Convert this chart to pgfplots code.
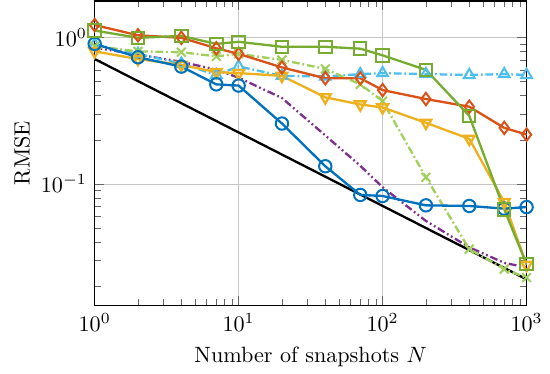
\documentclass[border=0pt]{standalone}
\usepackage{pgfplots}
\pgfplotsset{compat=1.18}
\definecolor{mblue}{rgb}{0,0.447,0.741}
\definecolor{morange}{rgb}{0.85,0.325,0.098}
\definecolor{myellow}{rgb}{0.929,0.694,0.125}
\definecolor{mpurple}{rgb}{0.494,0.184,0.556}
\definecolor{mgreen}{rgb}{0.466,0.674,0.188}
\definecolor{mlblue}{rgb}{0.301,0.745,0.933}
\definecolor{mlgreen}{rgb}{0.63,0.81,0.36}
\begin{document}
\begin{tikzpicture}
\begin{axis}[
  scale only axis,
  width=195pt, height=137.5pt,
  xmode=log, ymode=log,
  xmin=1, xmax=1000, ymin=0.0149, ymax=1.77,
  grid=major,
  major grid style={gray!45, line width=0.4pt},
  tick style={gray!80!black},
  axis line style={black, line width=0.7pt},
  xlabel={Number of snapshots $N$},
  ylabel={RMSE},
  ylabel style={yshift=-2pt},
  every axis plot/.append style={line width=1.05pt, mark size=2.8pt, mark options={solid, line width=0.9pt}},
]
\addplot[black, no marks] coordinates {(1,0.71) (1000,0.0224)};
\addplot[mpurple, dash pattern=on 3.5pt off 1.3pt on 0.8pt off 1.3pt on 0.8pt off 1.3pt, no marks] coordinates {
(1,0.85) (2,0.76) (4,0.68) (7,0.60) (10,0.53) (20,0.385) (40,0.214) (70,0.133) (100,0.095) (200,0.056) (400,0.037) (700,0.029) (1000,0.027)};
\addplot[mlblue, dash pattern=on 3.5pt off 1.3pt on 0.8pt off 1.3pt, mark=triangle] coordinates {
(1,0.89) (2,0.77) (4,0.66) (7,0.553) (10,0.632) (20,0.545) (40,0.54) (70,0.56) (100,0.569) (200,0.56) (400,0.553) (700,0.56) (1000,0.553)};
\addplot[mlgreen, dash pattern=on 3.5pt off 1.3pt on 0.8pt off 1.3pt, mark=x] coordinates {
(1,0.867) (2,0.80) (4,0.79) (7,0.74) (10,0.77) (20,0.70) (40,0.608) (70,0.477) (100,0.367) (200,0.111) (400,0.036) (700,0.0263) (1000,0.023)};
\addplot[myellow, mark=triangle, mark options={rotate=180}] coordinates {
(1,0.80) (2,0.71) (4,0.648) (7,0.578) (10,0.569) (20,0.545) (40,0.389) (70,0.348) (100,0.332) (200,0.261) (400,0.203) (700,0.0753) (1000,0.0281)};
\addplot[mblue, mark=o] coordinates {
(1,0.90) (2,0.73) (4,0.63) (7,0.477) (10,0.468) (20,0.258) (40,0.132) (70,0.0842) (100,0.0828) (200,0.0715) (400,0.0708) (700,0.0679) (1000,0.0696)};
\addplot[morange, mark=diamond] coordinates {
(1,1.21) (2,1.03) (4,0.99) (7,0.84) (10,0.77) (20,0.622) (40,0.525) (70,0.525) (100,0.436) (200,0.379) (400,0.336) (700,0.241) (1000,0.217)};
\addplot[mgreen, mark=square] coordinates {
(1,1.11) (2,0.99) (4,1.02) (7,0.90) (10,0.93) (20,0.86) (40,0.86) (70,0.835) (100,0.752) (200,0.599) (400,0.291) (700,0.0671) (1000,0.0284)};
\end{axis}
\path ([xshift=-3pt]current axis.outer west);
\end{tikzpicture}
\end{document}
